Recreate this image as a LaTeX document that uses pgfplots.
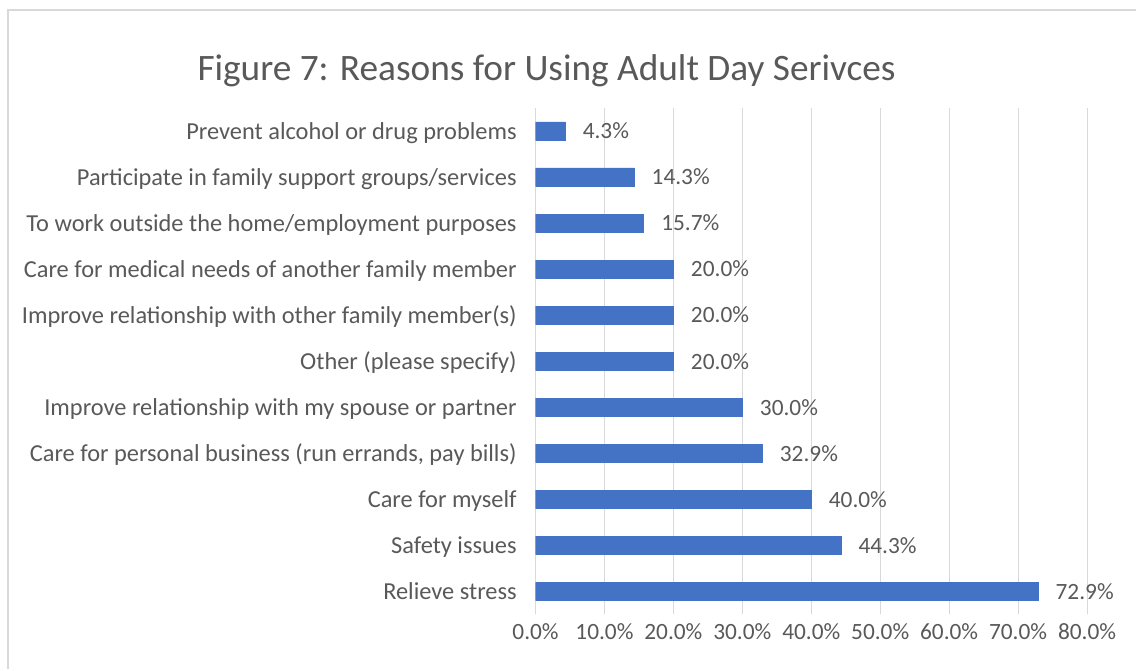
\documentclass[border=0pt]{standalone}
\usepackage{pgfplots}
\pgfplotsset{compat=1.18}
\usepackage{fontspec}
\setmainfont{Carlito}
\definecolor{txt}{RGB}{89,89,89}
\definecolor{grd}{RGB}{217,217,217}
\definecolor{barc}{RGB}{68,114,196}
\begin{document}
\begin{tikzpicture}[x=0.75pt,y=0.75pt]
\path[fill=white] (0,0) rectangle (1137,670);
\draw[grd, line width=1.5pt] (8,0) -- (8,660) -- (1137,660);
\node[text=txt, font=\fontsize{28}{34}\selectfont, anchor=base, inner sep=0pt] at (547,589) {Figure 7: Reasons for Using Adult Day Serivces};
\begin{axis}[
  at={(402pt,41.25pt)}, anchor=south west,
  scale only axis, width=414pt, height=380.25pt,
  xmin=0, xmax=80, ymin=-0.5, ymax=10.5,
  xbar, bar width=13.5pt,
  axis line style={draw=none},
  xmajorgrids, grid style={grd, line width=0.75pt},
  major tick length=0pt,
  xtick={0,10,...,80},
  ytick={0,1,...,10},
  yticklabels={Relieve stress, Safety issues, Care for myself, {Care for personal business (run errands, pay bills)}, Improve relationship with my spouse or partner, Other (please specify), Improve relationship with other family member(s), Care for medical needs of another family member, To work outside the home/employment purposes, Participate in family support groups/services, Prevent alcohol or drug problems},
  /pgf/number format/assume math mode=true,
  xticklabel={\pgfmathprintnumber[fixed,fixed zerofill,precision=1]{\tick}\%},
  xticklabel style={font=\fontsize{17.5}{20}\selectfont, text=txt, anchor=base, inner sep=0pt, yshift=-19pt},
  yticklabel style={font=\fontsize{18.3}{21}\selectfont, text=txt, anchor=mid east, inner sep=0pt, xshift=-14pt, yshift=-4pt},
  point meta=x,
  nodes near coords={\pgfmathprintnumber[fixed,fixed zerofill,precision=1]{\pgfplotspointmeta}\%},
  nodes near coords style={font=\fontsize{17.5}{20}\selectfont, text=txt, anchor=west, inner sep=0pt, xshift=13pt},
]
\addplot[fill=barc, draw=barc] coordinates {
(72.9,0) (44.3,1) (40.0,2) (32.9,3) (30.0,4) (20.0,5) (20.0,6) (20.0,7) (15.7,8) (14.3,9) (4.3,10)
};
\end{axis}
\end{tikzpicture}
\end{document}
